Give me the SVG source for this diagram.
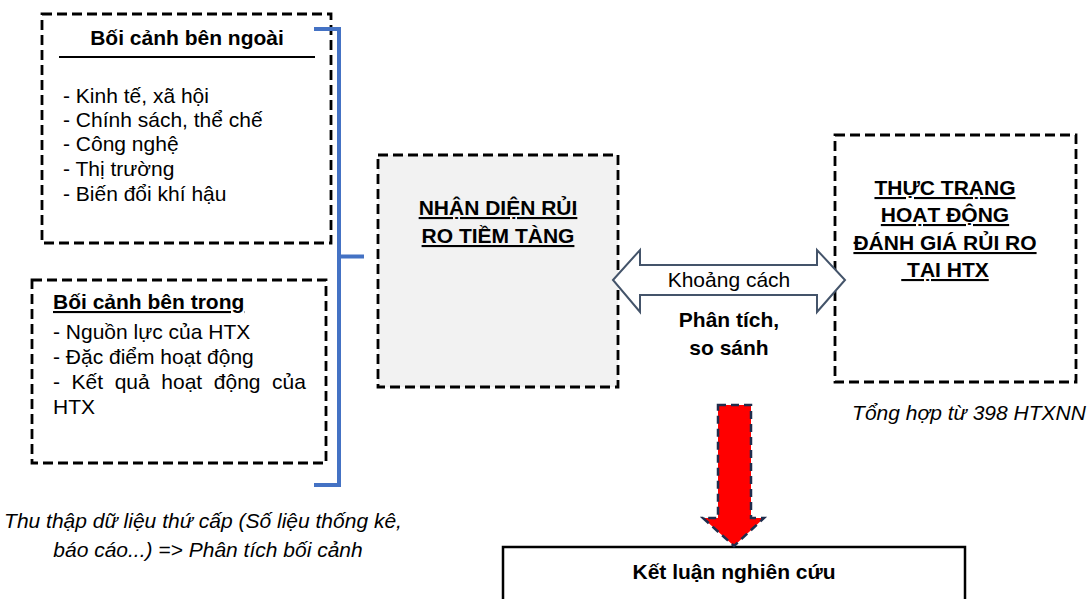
<svg xmlns="http://www.w3.org/2000/svg" width="1089" height="599" viewBox="0 0 1089 599">
<style>
  text { font-family: "Liberation Sans", Arial, sans-serif; font-size: 21px; fill: #000; }
  .b { font-weight: bold; }
  .u { text-decoration: underline; }
  .i { font-style: italic; }
  .m { text-anchor: middle; }
  .dash { fill: #fff; stroke: #000; stroke-width: 2.8; stroke-dasharray: 10 5; }
  .blue { fill: none; stroke: #4472c4; stroke-width: 4; }
</style>
<rect width="1089" height="599" fill="#fff"/>

<g id="external">
  <rect class="dash" x="42" y="14" width="289" height="229"/>
  <text class="b m" x="187" y="45">Bối cảnh bên ngoài</text>
  <line x1="59" y1="57" x2="315" y2="57" stroke="#000" stroke-width="2"/>
  <text x="63" y="103">- Kinh tế, xã hội</text>
  <text x="63" y="127">- Chính sách, thể chế</text>
  <text x="63" y="151">- Công nghệ</text>
  <text x="63" y="176">- Thị trường</text>
  <text x="63" y="201">- Biến đổi khí hậu</text>
</g>

<g id="internal">
  <rect class="dash" x="32" y="280" width="294" height="183"/>
  <text class="b u" x="53" y="309">Bối cảnh bên trong</text>
  <text x="53" y="339">- Nguồn lực của HTX</text>
  <text x="53" y="364">- Đặc điểm hoạt động</text>
  <text y="389"><tspan x="53">-</tspan><tspan x="71.6">Kết</tspan><tspan x="114.7">quả</tspan><tspan x="161.3">hoạt</tspan><tspan x="213.8">động</tspan><tspan x="272.1">của</tspan></text>
  <text x="53" y="414">HTX</text>
</g>

<g id="identify">
  <rect class="dash" x="378" y="155" width="240" height="232" style="fill:#f2f2f2"/>
  <text class="b u m" x="498" y="215">NHẬN DIỆN RỦI</text>
  <text class="b u m" x="498" y="243">RO TIỀM TÀNG</text>
</g>

<g id="status">
  <rect class="dash" x="835" y="135" width="241" height="247"/>
  <text class="b u m" x="945" y="195">THỰC TRẠNG</text>
  <text class="b u m" x="945" y="222">HOẠT ĐỘNG</text>
  <text class="b u m" x="945" y="250">ĐÁNH GIÁ RỦI RO</text>
  <text class="b u m" x="945" y="277">&#160;TẠI HTX</text>
</g>

<g id="source-note">
  <text class="i m" x="969" y="420">Tổng hợp từ 398 HTXNN</text>
</g>

<g id="caption">
  <text class="i m" x="203" y="528">Thu thập dữ liệu thứ cấp (Số liệu thống kê,</text>
  <text class="i m" x="208" y="557">báo cáo...) =&gt; Phân tích bối cảnh</text>
</g>

<g id="conclusion">
  <rect x="503" y="547" width="462" height="70" fill="#fff" stroke="#000" stroke-width="2.5"/>
  <text class="b m" x="734" y="579">Kết luận nghiên cứu</text>
</g>

<g id="connectors">
  <path class="blue" d="M314,29 H339 V485 H314 M339,256.5 H364"/>
  <path id="double-arrow" d="M613,280 L640,250 V265 H817 V250 L845,280 L817,312 V295 H640 V312 Z" fill="#fff" stroke="#44546a" stroke-width="2"/>
  <text class="m" x="729" y="287">Khoảng cách</text>
  <text class="m b" x="729" y="327">Phân tích,</text>
  <text class="m b" x="729" y="355">so sánh</text>
  <path id="down-arrow" d="M718,405 H751 V518 H764 L734,546 L703,518 H718 Z" fill="#ff0000" stroke="#1f2d4d" stroke-width="2.5" stroke-dasharray="8 5"/>
</g>
</svg>
